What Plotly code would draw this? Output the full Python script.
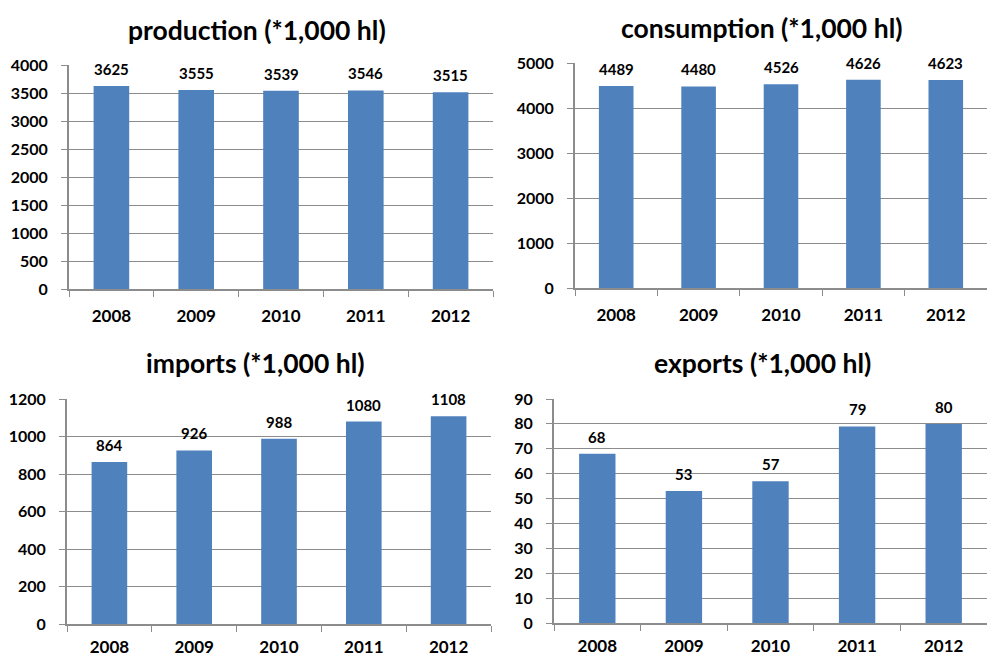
import plotly.graph_objects as go

years = ["2008", "2009", "2010", "2011", "2012"]
production = [3625, 3555, 3539, 3546, 3515]
consumption = [4489, 4480, 4526, 4626, 4623]
imports = [864, 926, 988, 1080, 1108]
exports = [68, 53, 57, 79, 80]

titles = ["production (*1,000 hl)", "consumption (*1,000 hl)",
          "imports (*1,000 hl)", "exports (*1,000 hl)"]
series = [production, consumption, imports, exports]
ranges = [4000, 5000, 1200, 90]
dticks = [500, 1000, 200, 10]

W, H = 987, 659
# plot areas in pixels: (left, right, top, bottom)
boxes = [(69, 493, 65, 289), (575, 987, 63, 288),
         (67, 491, 399, 624), (554, 987, 399, 623)]
title_pos = [(257, 30), (762, 28), (255, 363), (762, 363)]
x_standoff = [11, 11, 7, 7]

BAR = "#4F81BD"
GRID = "#8c8c8c"
LBL = dict(family="Lato", size=15, color="#000000", weight="bold")
XT = dict(family="Lato", size=17, color="#000000", weight="bold")
YT = dict(family="Lato", size=16, color="#000000", weight="bold")

fig = go.Figure()
layout = dict(width=W, height=H, margin=dict(l=0, r=0, t=0, b=0, pad=0),
              paper_bgcolor="white", plot_bgcolor="white",
              showlegend=False, font=LBL)
annotations = []
for i, (vals, ttl) in enumerate(zip(series, titles)):
    n = "" if i == 0 else str(i + 1)
    xa, ya = "x" + n, "y" + n
    l, r, t, b = boxes[i]
    fig.add_trace(go.Bar(x=years, y=vals, xaxis=xa, yaxis=ya,
                         marker=dict(color=BAR, line=dict(width=0)),
                         width=0.42, hoverinfo="skip"))
    layout["xaxis" + n] = dict(domain=[l / W, r / W], anchor=ya,
                               type="category", range=[-0.5, len(years) - 0.5],
                               automargin=False, showgrid=False,
                               showline=True, linecolor=GRID, linewidth=2,
                               ticks="outside", tickson="boundaries",
                               ticklen=6, tickcolor=GRID, tickwidth=1,
                               ticklabelstandoff=x_standoff[i], tickfont=XT)
    layout["yaxis" + n] = dict(domain=[1 - b / H, 1 - t / H], anchor=xa,
                               range=[0, ranges[i]], dtick=dticks[i],
                               automargin=False,
                               showgrid=True, gridcolor=GRID, gridwidth=1,
                               showline=True, linecolor=GRID, linewidth=2,
                               ticks="outside", ticklen=6, tickcolor=GRID,
                               tickwidth=1, ticklabelstandoff=10,
                               zeroline=False, tickfont=YT)
    for k, v in enumerate(vals):
        annotations.append(dict(x=k, y=v, xref=xa, yref=ya, text=str(v),
                                showarrow=False, yanchor="bottom",
                                yshift=6, font=LBL))
    tx, ty = title_pos[i]
    annotations.append(dict(x=tx / W, y=1 - ty / H, xref="paper",
                            yref="paper", text=ttl, showarrow=False,
                            xanchor="center", yanchor="middle",
                            font=dict(family="Lato", size=26.5,
                                      color="#000000", weight="bold")))
layout["annotations"] = annotations
fig.update_layout(**layout)
fig.write_html("out.html")
